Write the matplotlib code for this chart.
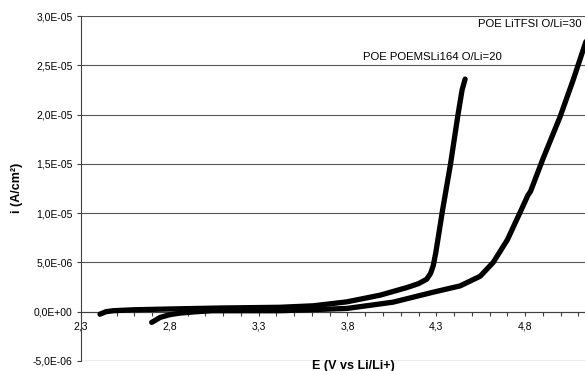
import matplotlib
matplotlib.use("Agg")
import matplotlib.pyplot as plt
from matplotlib.ticker import MultipleLocator, FixedLocator, FuncFormatter

plt.rcParams['font.family'] = ['Liberation Sans', 'DejaVu Sans']

# POE POEMSLi164 O/Li=20  (E in V, i in 1E-6 A/cm2)
e_poems = [2.407, 2.44, 2.48, 2.6, 2.86, 3.1, 3.42, 3.607, 3.796, 3.984, 4.134, 4.20,
           4.246, 4.268, 4.283, 4.297, 4.313, 4.335, 4.38, 4.422, 4.445, 4.462]
i_poems = [-0.25, 0.0, 0.1, 0.2, 0.3, 0.38, 0.45, 0.6, 1.0, 1.68, 2.45, 2.85,
           3.3, 3.9, 4.7, 6.0, 7.8, 10.3, 15.0, 20.0, 22.5, 23.6]

# POE LiTFSI O/Li=30
e_tfsi = [2.698, 2.72, 2.745, 2.8, 2.857, 2.95, 3.04, 3.42, 3.796, 4.057, 4.282, 4.434,
          4.547, 4.62, 4.70, 4.772, 4.80, 4.815, 4.83, 4.90, 4.997, 5.07, 5.14, 5.2]
i_tfsi = [-1.08, -0.85, -0.58, -0.3, -0.14, 0.0, 0.1, 0.1, 0.33, 0.97, 1.98, 2.62,
          3.6, 5.0, 7.3, 10.1, 11.2, 11.8, 12.2, 15.5, 19.8, 23.5, 27.3, 30.0]

labels = ["POE POEMSLi164 O/Li=20", "POE LiTFSI O/Li=30"]
e_ticks = [2.3, 2.8, 3.3, 3.8, 4.3, 4.8]

fig = plt.figure(figsize=(5.85, 3.71), dpi=100)
ax = fig.add_axes([81/585, 10/371, 533/585, 345/371])

ax.plot(e_poems, [v * 1e-6 for v in i_poems], color='black', lw=3.8,
        solid_capstyle='round', solid_joinstyle='round', zorder=3)
ax.plot(e_tfsi, [v * 1e-6 for v in i_tfsi], color='black', lw=3.8,
        solid_capstyle='round', solid_joinstyle='round', zorder=3)

ax.set_xlim(2.3, 5.3)
ax.set_ylim(-5e-6, 3e-5)

ax.spines['top'].set_visible(False)
ax.spines['right'].set_visible(False)
ax.spines['bottom'].set_position(('data', 0))
ax.spines['left'].set_color('#404040')
ax.spines['bottom'].set_color('#404040')

ax.xaxis.set_major_locator(FixedLocator(e_ticks))
ax.xaxis.set_minor_locator(MultipleLocator(0.1))
ax.yaxis.set_major_locator(MultipleLocator(5e-6))
ax.xaxis.set_major_formatter(FuncFormatter(lambda v, p: f"{v:.1f}".replace('.', ',')))
ax.yaxis.set_major_formatter(FuncFormatter(lambda v, p: f"{v:.1E}".replace('.', ',')))

ax.tick_params(axis='both', which='both', direction='out', length=3, width=0.8,
               colors='#404040', labelcolor='black', labelsize=7.5)
ax.tick_params(axis='x', pad=4)
ax.tick_params(axis='y', pad=3)

ax.yaxis.grid(True, color='#555555', lw=0.8)
ax.set_axisbelow(True)
ax.axhline(-5e-6, color='#555555', lw=0.8)

ax.text(4.28, 2.585e-5, labels[0], fontsize=8.2, ha='center', va='center')
ax.text(5.115, 2.92e-5, labels[1], fontsize=8.2, ha='right', va='center')

fig.text(17/585, 1 - 188/371, "i (A/cm²)", rotation=90, fontsize=9,
         fontweight='bold', ha='center', va='center')
fig.text(353/585, 1 - 366/371, "E (V vs Li/Li+)", fontsize=9,
         fontweight='bold', ha='center', va='center')

fig.savefig("out.png", dpi=100)
